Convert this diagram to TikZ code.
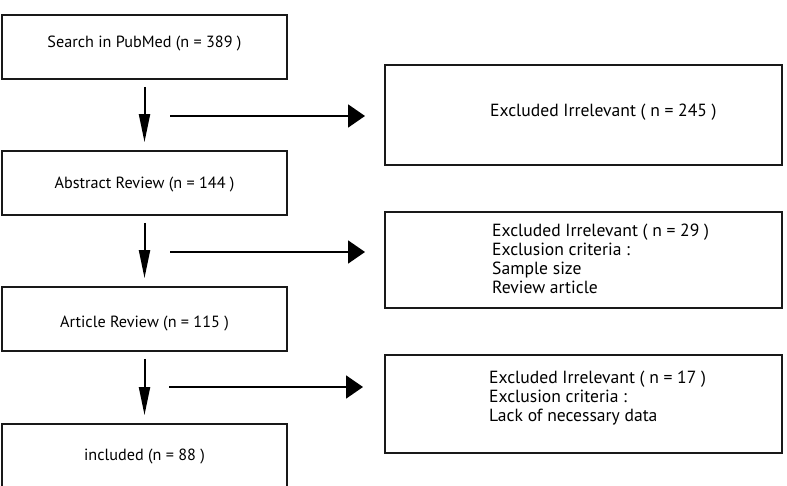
\documentclass[tikz,border=0pt]{standalone}
\usepackage{fontspec}
\setmainfont{PT Sans}
\usetikzlibrary{arrows.meta}
\begin{document}
\begin{tikzpicture}[x=1pt,y=-1pt,
  lbox/.style={draw=black!90,line width=1.8pt,rectangle,minimum width=285pt,minimum height=64pt,inner sep=0pt},
  ltext/.style={anchor=base,inner sep=0pt,font=\fontsize{16.2}{19}\selectfont},
  rbox/.style={draw=black!90,line width=1.8pt,rectangle,inner sep=0pt},
  rtext/.style={anchor=base west,inner sep=0pt,font=\fontsize{17.6}{19}\selectfont},
  varr/.style={line width=2pt,-{Triangle[length=28pt,width=11pt]}},
  harr/.style={line width=2pt,-{Triangle[length=17pt,width=23pt]}}]
\useasboundingbox (0,0) rectangle (787,486);
\fill[white] (0,0) rectangle (787,486);
% left boxes
\node[lbox] (b1) at (144.5,47) {};
\node[lbox] (b2) at (144.5,183) {};
\node[lbox] (b3) at (144.5,319) {};
\node[lbox] (b4) at (144.5,456) {};
\node[ltext] (l1) at (144.5,47.5) {Search in PubMed (n = 389 )};
\node[ltext] (l2) at (144.5,189) {Abstract Review (n = 144 )};
\node[ltext] (l3) at (144.5,327) {Article Review (n = 115 )};
\node[ltext] (l4) at (144.5,460.5) {included (n = 88 )};
% right boxes
\draw[rbox] (385,65) rectangle (782,165);
\node[inner sep=0pt] (r1) at (583.5,115) {};
\draw[rbox] (385,212) rectangle (782,308);
\node[inner sep=0pt] (r2) at (583.5,260) {};
\draw[rbox] (385,355) rectangle (782,453);
\node[inner sep=0pt] (r3) at (583.5,404) {};
\node[rtext] (t1) at (490,116.5) {Excluded Irrelevant ( n = 245 )};
\node[rtext] (t2) at (492,236.5) {\begin{tabular}[t]{@{}l@{}}Excluded Irrelevant ( n = 29 )\\Exclusion criteria :\\Sample size\\Review article\end{tabular}};
\node[rtext] (t3) at (489,383) {\begin{tabular}[t]{@{}l@{}}Excluded Irrelevant ( n = 17 )\\Exclusion criteria :\\Lack of necessary data\end{tabular}};
% vertical arrows
\draw[varr] ([yshift=-7pt]b1.south) -- ([yshift=8pt]b2.north);
\draw[varr] ([yshift=-7pt]b2.south) -- ([yshift=8pt]b3.north);
\draw[varr] ([yshift=-7pt]b3.south) -- ([yshift=8pt]b4.north);
% horizontal arrows
\coordinate (h1s) at (170,116);
\coordinate (h1e) at (365,116);
\coordinate (h2s) at (170,252);
\coordinate (h2e) at (365,252);
\coordinate (h3s) at (169,387);
\coordinate (h3e) at (363,387);
\draw[harr] (h1s) -- (h1e);
\draw[harr] (h2s) -- (h2e);
\draw[harr] (h3s) -- (h3e);
\end{tikzpicture}
\end{document}
